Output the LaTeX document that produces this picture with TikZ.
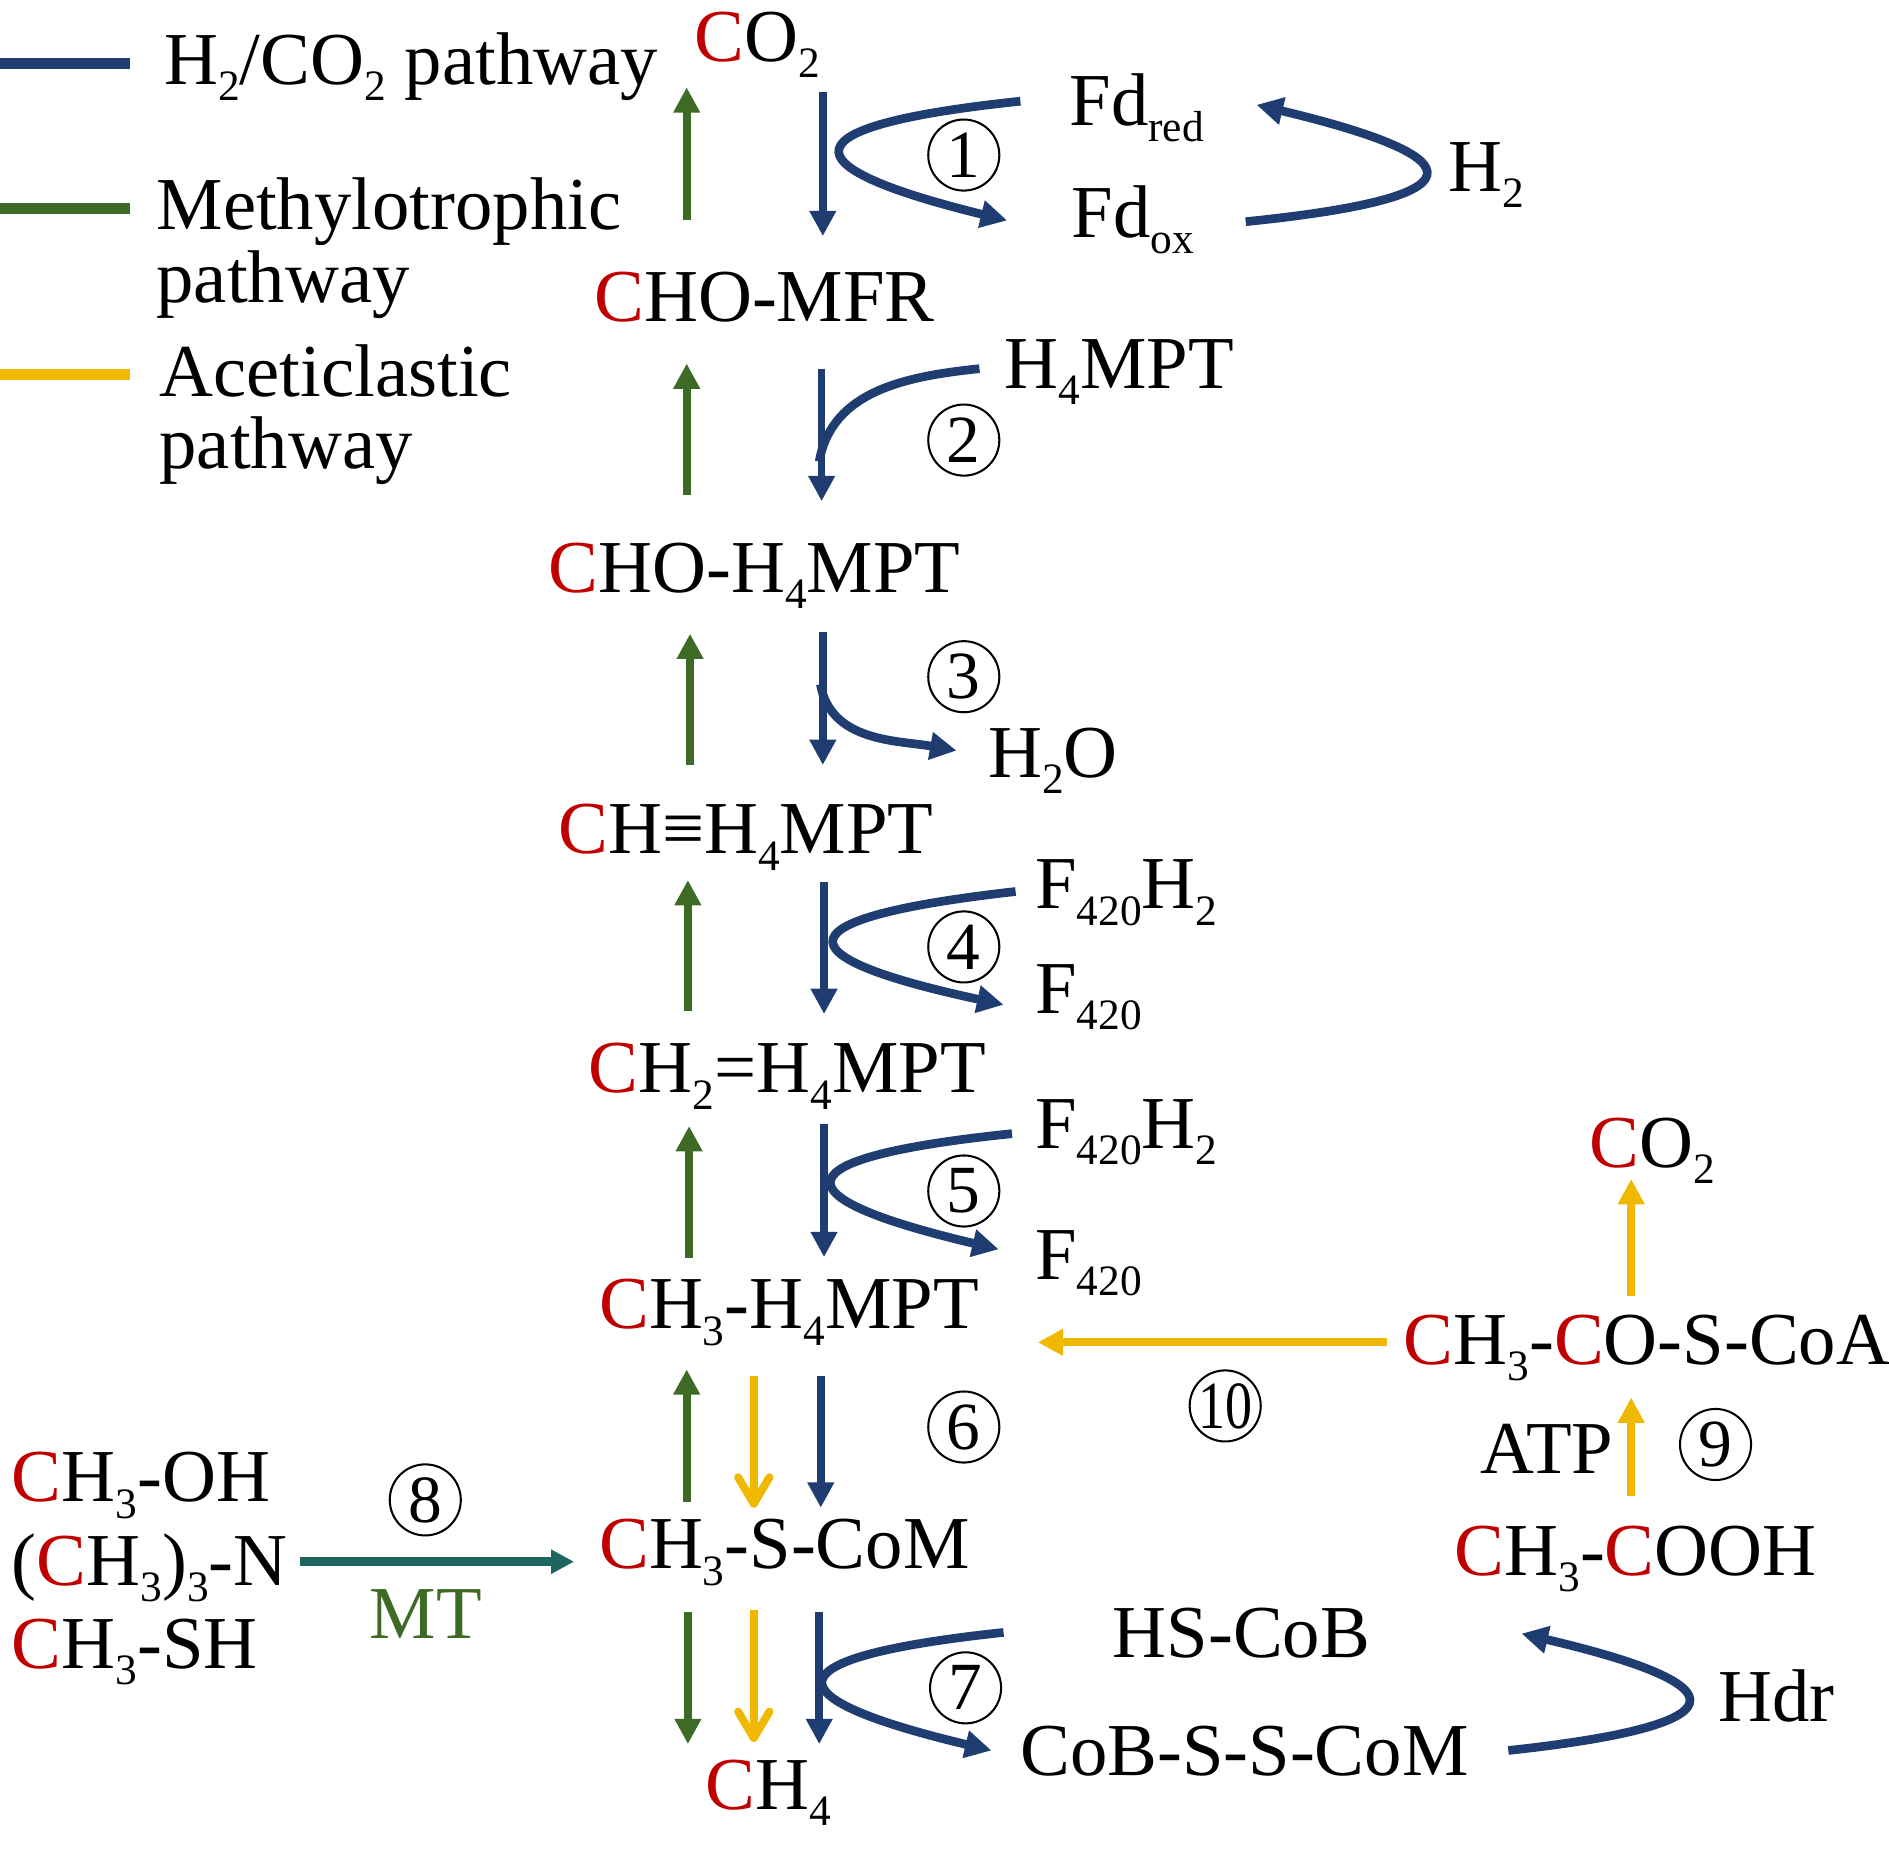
\documentclass[tikz,border=0pt]{standalone}
\usepackage{fontspec}
\setmainfont{Liberation Serif}
\usetikzlibrary{arrows.meta}
\definecolor{cblue}{RGB}{31,61,112}
\definecolor{cgreen}{RGB}{61,107,38}
\definecolor{cyellow}{RGB}{240,184,0}
\definecolor{cteal}{RGB}{30,101,96}
\definecolor{cred}{RGB}{192,0,0}
\newcommand{\rC}{\textcolor{cred}{C}}
\newcommand{\sbs}[1]{\raisebox{-0.22em}{\fontsize{18}{18}\selectfont #1}}
\newcommand{\mainfs}{\fontsize{31}{36}\selectfont}
\begin{document}
\begin{tikzpicture}[x=0.5pt,y=-0.5pt,
  lbl/.style={anchor=base west, inner sep=0pt, font=\mainfs},
  num/.style={circle, draw, line width=0.85pt, minimum size=29.5pt, inner sep=0pt, font=\fontsize{28}{28}\selectfont},
  arr/.style={line width=3.2pt, -{Triangle[length=10.5pt,width=10.5pt]}},
  carr/.style={line width=3.6pt, cblue, -{Triangle[length=11pt,width=11pt]}},
  cline/.style={line width=3.6pt, cblue},
  yarr/.style={line width=3.3pt, cyellow, -{Straight Barb[length=11pt,width=13pt,round]}},
  legline/.style={line width=4.5pt}]
\useasboundingbox (0,0) rectangle (1568,1538);

% legend
\coordinate (lb0) at (0,52.4);   \coordinate (lb1) at (108,52.4);
\coordinate (lg0) at (0,173);    \coordinate (lg1) at (108,173);
\coordinate (ly0) at (0,311);    \coordinate (ly1) at (108,311);
\draw[legline, cblue] (lb0) -- (lb1);
\draw[legline, cgreen] (lg0) -- (lg1);
\draw[legline, cyellow] (ly0) -- (ly1);
\node[lbl] (legA) at (136,70) {H\sbs{2}/CO\sbs{2} pathway};
\node[lbl] (legB1) at (129.6,190.6) {Methylotrophic};
\node[lbl] (legB2) at (129.6,251) {pathway};
\node[lbl] (legC1) at (132,329) {Aceticlastic};
\node[lbl] (legC2) at (132,389) {pathway};

% main column
\node[lbl] (co2) at (576,51) {\rC O\sbs{2}};
\node[lbl] (chomfr) at (493,267) {\rC HO-MFR};
\node[lbl] (choh4) at (455,491.5) {\rC HO-H\sbs{4}MPT};
\node[lbl] (chh4) at (463,708.6) {\rC H≡H\sbs{4}MPT};
\node[lbl] (ch2h4) at (488.5,907) {\rC H\sbs{2}=H\sbs{4}MPT};
\node[lbl] (ch3h4) at (497,1103) {\rC H\sbs{3}-H\sbs{4}MPT};
\node[lbl] (ch3scom) at (497,1302) {\rC H\sbs{3}-S-CoM};
\node[lbl] (ch4) at (585.5,1502) {\rC H\sbs{4}};

% side species
\node[lbl] (fdred) at (887.4,104.2) {Fd\sbs{red}};
\node[lbl] (fdox) at (889.4,197) {Fd\sbs{ox}};
\node[lbl] (h2) at (1201.6,158.8) {H\sbs{2}};
\node[lbl] (h4mpt) at (833.4,322.4) {H\sbs{4}MPT};
\node[lbl] (h2o) at (820,645) {H\sbs{2}O};
\node[lbl] (f420h2a) at (859,754.3) {F\sbs{420}H\sbs{2}};
\node[lbl] (f420a) at (859,841) {F\sbs{420}};
\node[lbl] (f420h2b) at (859,953) {F\sbs{420}H\sbs{2}};
\node[lbl] (f420b) at (859,1061.7) {F\sbs{420}};
\node[lbl] (hscob) at (923.3,1375.5) {HS-CoB};
\node[lbl] (cobsscom) at (846.5,1474) {CoB-S-S-CoM};
\node[lbl] (hdr) at (1425.8,1429.3) {Hdr};
\node[lbl] (co2r) at (1319,968.9) {\rC O\sbs{2}};
\node[lbl] (accoa) at (1164.8,1132.3) {\rC H\sbs{3}-\rC O-S-CoA};
\node[lbl] (acet) at (1207,1307.7) {\rC H\sbs{3}-\rC OOH};
\node[lbl] (atp) at (1228.6,1223.2) {ATP};
\node[lbl] (meoh) at (9.5,1246.5) {\rC H\sbs{3}-OH};
\node[lbl] (tma) at (9.5,1315.7) {(\rC H\sbs{3})\sbs{3}-N};
\node[lbl] (mesh) at (9.5,1384.9) {\rC H\sbs{3}-SH};
\node[lbl, text=cgreen] (mt) at (306.5,1360) {MT};

% step numbers
\node[num] (n1) at (800,128.7) {1};
\node[num] (n2) at (800,365.3) {2};
\node[num] (n3) at (800,561.7) {3};
\node[num] (n4) at (800,786) {4};
\node[num] (n5) at (800,988.6) {5};
\node[num] (n6) at (800,1184.5) {6};
\node[num] (n7) at (801.5,1401) {7};
\node[num] (n8) at (353,1245) {8};
\node[num] (n9) at (1424,1199) {9};
\node[num] (n10) at (1017,1167) {\scalebox{0.8}[1]{10}};

% green (methylotrophic) arrows
\foreach \i/\x/\ya/\yb in {1/570/183/72.5, 2/570/411/301.7, 3/572.8/635/526, 4/571/839/730.5, 5/572/1044/934.7, 6/570/1246.9/1136.6, 7/571/1337.7/1447.7}{
  \coordinate (gs\i) at (\x,\ya); \coordinate (ge\i) at (\x,\yb);
  \draw[arr, cgreen] (gs\i) -- (ge\i);
}
% blue (H2/CO2) arrows
\foreach \i/\x/\ya/\yb in {1/683/76/196, 2/682/306/416, 3/683/524.7/635, 4/684/731.7/841.7, 5/684/933/1043.5, 6/681.3/1142/1251.5, 7/680/1337.7/1447.7}{
  \coordinate (bs\i) at (\x,\ya); \coordinate (be\i) at (\x,\yb);
  \draw[arr, cblue] (bs\i) -- (be\i);
}
% yellow (aceticlastic) arrows
\coordinate (ys6) at (625.7,1142);  \coordinate (ye6) at (625.7,1251.5);
\coordinate (ys7) at (625.7,1336);  \coordinate (ye7) at (625.7,1446);
\draw[yarr] (ys6) -- (ye6);
\draw[yarr] (ys7) -- (ye7);
\coordinate (ys10) at (1151,1114.2); \coordinate (ye10) at (861.4,1114.2);
\draw[arr, cyellow] (ys10) -- (ye10);
\coordinate (ysc) at (1354,1076); \coordinate (yec) at (1354,978.6);
\draw[arr, cyellow] (ysc) -- (yec);
\coordinate (ys9) at (1354,1242); \coordinate (ye9) at (1354,1160);
\draw[arr, cyellow] (ys9) -- (ye9);
% teal MT arrow
\coordinate (ts) at (249.4,1296.3); \coordinate (te) at (476.5,1296.3);
\draw[line width=3.5pt, cteal, -{Triangle[length=9.5pt,width=9.5pt]}] (ts) -- (te);

% curved cofactor arrows (parabolic)
\coordinate (c1s) at (847,84); \coordinate (c1e) at (836,183);
\draw[carr] (c1s) .. controls (653.3,104.3) and (649.7,137.3) .. (c1e);
\coordinate (chs) at (1034,184); \coordinate (che) at (1043,87);
\draw[carr] (chs) .. controls (1228.3,164.3) and (1231.3,132) .. (che);
\coordinate (c2s) at (813,306); \coordinate (c2e) at (680,383);
\draw[cline] (c2s) to[out=186,in=80] (c2e);
\coordinate (c3s) at (681,568); \coordinate (c3e) at (794,623);
\draw[carr] (c3s) to[out=-80,in=170] (c3e);
\coordinate (c4s) at (843,740); \coordinate (c4e) at (833,834);
\draw[carr] (c4s) .. controls (647.7,762) and (644.3,793.3) .. (c4e);
\coordinate (c5s) at (840,941); \coordinate (c5e) at (829,1037);
\draw[carr] (c5s) .. controls (646.3,961) and (642.7,993) .. (c5e);
\coordinate (c7s) at (833,1355); \coordinate (c7e) at (823,1453);
\draw[carr] (c7s) .. controls (639,1375.7) and (635.7,1408.3) .. (c7e);
\coordinate (cds) at (1252,1453); \coordinate (cde) at (1263,1356);
\draw[carr] (cds) .. controls (1445.7,1432) and (1449.3,1399.7) .. (cde);
\end{tikzpicture}
\end{document}
